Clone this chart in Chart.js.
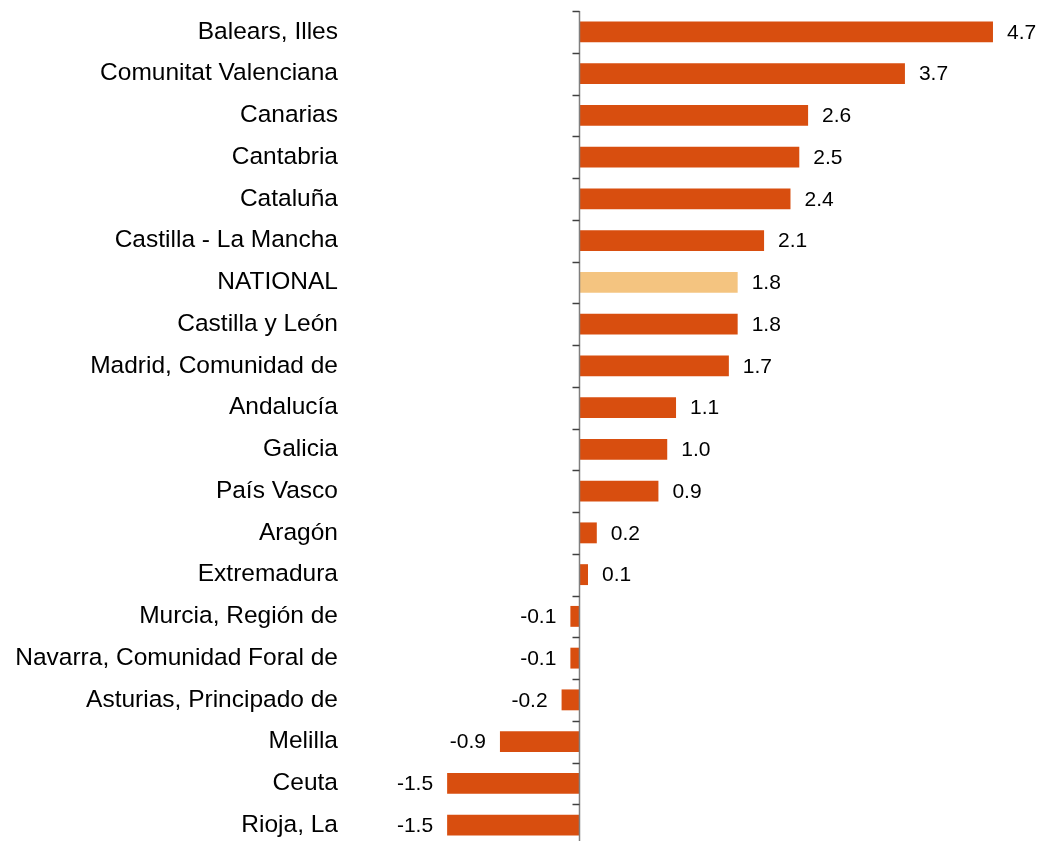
<!DOCTYPE html>
<html>
<head>
<meta charset="utf-8">
<script src="https://cdn.jsdelivr.net/npm/chart.js@4"></script>
<style>
  html, body { margin: 0; padding: 0; background: #fff; overflow: hidden; }
  #wrap { position: relative; width: 1038px; height: 846px; }
</style>
</head>
<body>
<div id="wrap"><canvas id="chart"></canvas></div>
<script>
const regions = [
  'Balears, Illes', 'Comunitat Valenciana', 'Canarias', 'Cantabria', 'Cataluña',
  'Castilla - La Mancha', 'NATIONAL', 'Castilla y León', 'Madrid, Comunidad de',
  'Andalucía', 'Galicia', 'País Vasco', 'Aragón', 'Extremadura',
  'Murcia, Región de', 'Navarra, Comunidad Foral de', 'Asturias, Principado de',
  'Melilla', 'Ceuta', 'Rioja, La'
]
const values = [4.7, 3.7, 2.6, 2.5, 2.4, 2.1, 1.8, 1.8, 1.7, 1.1, 1.0, 0.9, 0.2, 0.1, -0.1, -0.1, -0.2, -0.9, -1.5, -1.5]

const barColor = '#D84E0F'
const nationalColor = '#F4C480'
const fontFamily = '"Liberation Sans", Arial, sans-serif'

// zero line with small ticks between categories
const zeroAxis = {
  id: 'zeroAxis',
  afterDatasetsDraw(chart) {
    const { ctx, chartArea, scales } = chart
    const x0 = Math.round(scales.x.getPixelForValue(0)) + 0.5
    const n = regions.length
    const step = (chartArea.bottom - chartArea.top) / n
    ctx.save()
    ctx.strokeStyle = '#7f7f7f'
    ctx.lineWidth = 1.5
    ctx.beginPath()
    ctx.moveTo(x0, chartArea.top)
    ctx.lineTo(x0, chartArea.bottom)
    ctx.stroke()
    ctx.strokeStyle = '#404040'
    for (let i = 0; i <= n; i++) {
      const y = Math.round(chartArea.top + i * step) + 0.5
      ctx.beginPath()
      ctx.moveTo(x0 - 7, y)
      ctx.lineTo(x0, y)
      ctx.stroke()
    }
    ctx.restore()
  }
}

// value labels next to the bar ends
const valueLabels = {
  id: 'valueLabels',
  afterDatasetsDraw(chart) {
    const { ctx } = chart
    const meta = chart.getDatasetMeta(0)
    ctx.save()
    ctx.font = '21px ' + fontFamily
    ctx.fillStyle = '#000'
    ctx.textBaseline = 'middle'
    meta.data.forEach((bar, i) => {
      const v = values[i]
      const txt = v.toFixed(1)
      if (v >= 0) {
        ctx.textAlign = 'left'
        ctx.fillText(txt, bar.x + 14, bar.y + 1)
      } else {
        ctx.textAlign = 'right'
        ctx.fillText(txt, bar.x - 14, bar.y + 1)
      }
    })
    ctx.restore()
  }
}

new Chart(document.getElementById('chart'), {
  type: 'bar',
  data: {
    labels: regions,
    datasets: [{
      data: values,
      backgroundColor: regions.map(r => r === 'NATIONAL' ? nationalColor : barColor),
      categoryPercentage: 1,
      barPercentage: 0.5,
      borderWidth: 0
    }]
  },
  options: {
    indexAxis: 'y',
    responsive: true,
    maintainAspectRatio: false,
    animation: false,
    layout: { padding: { top: 11, right: 1, bottom: 0, left: 0 } },
    plugins: {
      legend: { display: false },
      tooltip: { enabled: false }
    },
    scales: {
      x: {
        display: false,
        min: -2.66,
        max: 5.2
      },
      y: {
        grid: { display: false, drawTicks: false },
        border: { display: false },
        afterFit: (scale) => {
          scale.width = 345
          scale.paddingTop = 0
          scale.paddingBottom = 0
        },
        ticks: {
          color: '#000',
          padding: 7,
          font: { family: fontFamily, size: 24.5 }
        }
      }
    }
  },
  plugins: [zeroAxis, valueLabels]
})
</script>
</body>
</html>
